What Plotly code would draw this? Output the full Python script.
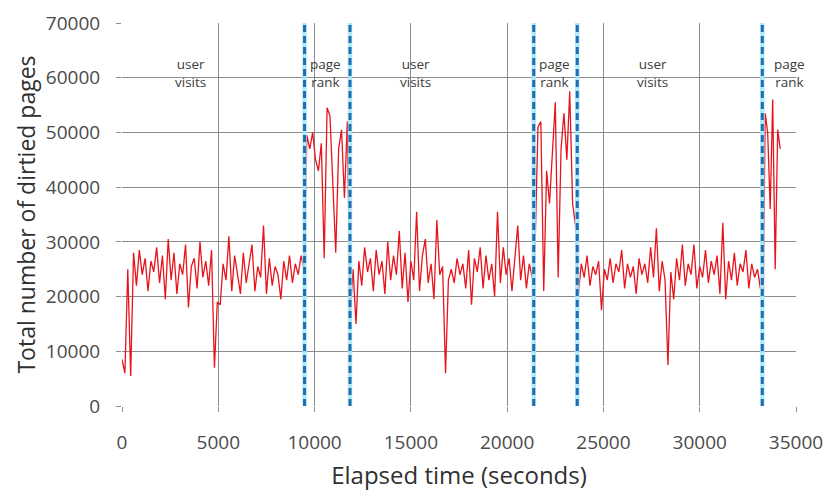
import plotly.graph_objects as go

# ---- data ----
start_t0, start_step = 0, 150
start_values = [8500, 6000, 25000, 5500, 28000]

visits1_t0, visits1_step = 750, 150
visits1_values = [
    22000, 28500, 24000, 27000, 21000, 26500, 24500, 29000, 22500, 27500,
    19500, 30500, 23000, 28000, 20500, 26000, 24000, 29500, 18000, 25500,
    27000, 21500, 30000, 23500, 26500, 22000, 28500, 7000, 19000, 18500,
    26000, 23000, 31000, 21000, 27500, 24000, 20500, 28000, 22500, 26000,
    29500, 21000, 25500, 23500, 33000, 20500, 27000, 22000, 25500, 24000,
    19500, 26500, 23000, 27500, 22500, 26000, 24000, 27500, 25000,
]

rank1_t0, rank1_step = 9600, 150
rank1_values = [49500, 47000, 50000, 45000, 43000, 48000, 27000, 54500,
                53000, 41000, 28000, 47000, 50500, 38000, 52000, 17000]

visits2_t0, visits2_step = 12000, 150
visits2_values = [
    25000, 15000, 26500, 22000, 29000, 24500, 27000, 21000, 28500, 24000,
    26500, 20500, 30000, 23000, 27500, 24000, 32000, 21500, 28000, 19000,
    26500, 23000, 35500, 21000, 27500, 30500, 22500, 26000, 19500, 34000,
    24000, 25500, 6000, 23000, 25000, 22500, 27000, 24000, 26000, 21500,
    28500, 18500, 27000, 24500, 29000, 21500, 27500, 23000, 26000, 20000,
    35500, 22500, 29000, 24000, 27000, 21000, 26500, 33000, 23000, 27500,
    21500, 26000, 23500, 29000,
]

rank2_t0, rank2_step = 21600, 150
rank2_values = [51000, 52000, 21000, 43000, 37000, 46000, 55500, 23500,
                47000, 53500, 45000, 57500, 37000, 33000]

visits3_t0, visits3_step = 23700, 150
visits3_values = [
    20500, 26000, 23500, 27500, 22000, 25500, 24000, 26500, 17500, 25000,
    23000, 27000, 22500, 26000, 24500, 28500, 21500, 26000, 23500, 25500,
    20500, 27000, 24000, 26000, 22500, 29000, 23500, 32500, 21000, 26500,
    23000, 7500, 24500, 19500, 27000, 23000, 29500, 22000, 26000, 24000,
    29500, 21500, 25500, 23500, 28500, 22500, 26500, 24000, 27500, 20500,
    33500, 19500, 26500, 23000, 28000, 22000, 26000, 24500, 28500, 21500,
    26000, 23500, 25000, 21500, 21000,
]

rank3_t0, rank3_step = 33400, 130
rank3_values = [53500, 50000, 36000, 56000, 25000, 50500, 47000]

phase_boundaries = [9480, 11840, 21380, 23640, 33250]
phase_label_x = [3550, 10560, 15240, 22480, 27550, 34650]
phase_labels = ["user<br>visits", "page<br>rank", "user<br>visits",
                "page<br>rank", "user<br>visits", "page<br>rank"]
phase_label_y = 60900

x_ticks = [0, 5000, 10000, 15000, 20000, 25000, 30000, 35000]
y_ticks = [0, 10000, 20000, 30000, 40000, 50000, 60000, 70000]

# ---- assemble series ----
segments = [
    (start_t0, start_step, start_values),
    (visits1_t0, visits1_step, visits1_values),
    (rank1_t0, rank1_step, rank1_values),
    (visits2_t0, visits2_step, visits2_values),
    (rank2_t0, rank2_step, rank2_values),
    (visits3_t0, visits3_step, visits3_values),
    (rank3_t0, rank3_step, rank3_values),
]
times, pages = [], []
for t0, step, vals in segments:
    for k, v in enumerate(vals):
        times.append(t0 + step * k)
        pages.append(v)

FONT = "Open Sans, Liberation Sans, sans-serif"
fig = go.Figure()

# phase boundaries (dashed, with a light halo)
for xb in phase_boundaries:
    fig.add_shape(type="line", x0=xb, x1=xb, y0=0, y1=70000, xref="x", yref="y",
                  line=dict(color="rgba(170,230,248,0.9)", width=4.5), layer="above")
    fig.add_shape(type="line", x0=xb, x1=xb, y0=0, y1=70000, xref="x", yref="y",
                  line=dict(color="#1f6fae", width=3, dash="7px,4px"), layer="above")

fig.add_trace(go.Scatter(x=times, y=pages, mode="lines",
                         line=dict(color="#e8141c", width=1.3),
                         showlegend=False, hoverinfo="skip"))

for lx, lt in zip(phase_label_x, phase_labels):
    fig.add_annotation(x=lx, y=phase_label_y, text=lt, showarrow=False,
                       font=dict(family=FONT, size=13.5, color="#3c3c3c"),
                       xref="x", yref="y")

fig.update_layout(
    width=824, height=491,
    margin=dict(l=122, r=28, t=23, b=85, autoexpand=False),
    paper_bgcolor="white", plot_bgcolor="white",
    font=dict(family=FONT, color="#404040"),
    showlegend=False,
)
fig.update_xaxes(range=[0, 35000], tickvals=x_ticks,
                 ticktext=[str(v) for v in x_ticks],
                 showgrid=True, gridcolor="#8c8c8c", gridwidth=1,
                 zeroline=False, showline=False, automargin=False,
                 ticks="outside", ticklen=5, tickcolor="#8c8c8c",
                 ticklabelstandoff=14,
                 tickfont=dict(family=FONT, size=19, color="#4a4a4a"),
                 title=dict(text="Elapsed time (seconds)", standoff=14,
                            font=dict(family=FONT, size=24, color="#303030")))
fig.update_yaxes(range=[0, 70000], tickvals=y_ticks,
                 ticktext=[str(v) for v in y_ticks],
                 showgrid=True, gridcolor="#8c8c8c", gridwidth=1,
                 zeroline=False, showline=False, automargin=False,
                 ticks="outside", ticklen=5, tickcolor="#8c8c8c",
                 ticklabelstandoff=12,
                 tickfont=dict(family=FONT, size=19, color="#4a4a4a"),
                 title=dict(text="Total number of dirtied pages", standoff=3,
                            font=dict(family=FONT, size=23, color="#303030")))

# remove the default 8px page margin so the figure fills the window exactly
fig.write_html("out.html",
               config={"displayModeBar": False},
               post_script="document.body.style.margin='0';document.body.style.overflow='hidden';")
